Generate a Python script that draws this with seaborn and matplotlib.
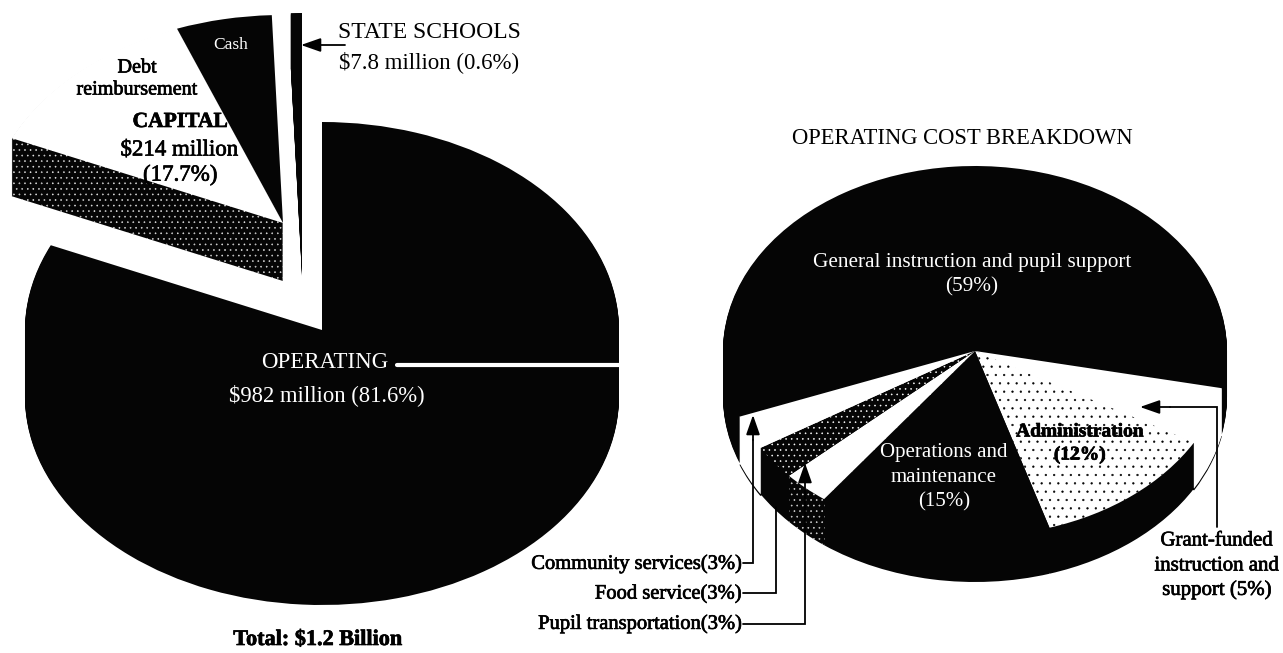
import matplotlib
matplotlib.use("Agg")
import matplotlib.pyplot as plt
import matplotlib.patheffects as pe
import seaborn as sns

# Spending split of the total budget (percent), drawn clockwise from twelve o'clock
budget_labels = ["Operating", "Debt reimbursement", "Cash", "State schools"]
budget_shares = [81.6, 12.5, 5.2, 0.6]

# Operating cost split (percent), drawn clockwise from the left rim
cost_labels = ["General instruction and pupil support", "Grant-funded instruction and support",
               "Administration", "Operations and maintenance", "Pupil transportation",
               "Food service", "Community services"]
cost_shares = [59, 5, 12, 15, 3, 3, 3]

sns.set_theme(style="white", rc={"hatch.linewidth": 0.4})
plt.rcParams["font.family"] = ["Liberation Serif", "DejaVu Serif"]

W, H = 1283, 653
INK = "#050505"
fig = plt.figure(figsize=(W / 100, H / 100), dpi=100, facecolor="white")


def pie_axes(cx, cy, rx, ry):
    """Full-figure axes whose unit circle shows as an ellipse around pixel (cx, cy)."""
    ax = fig.add_axes([0, 0, 1, 1])
    ax._frame = ((-cx / rx, (W - cx) / rx), ((cy - H) / ry, cy / ry))
    return ax


def solid_pie(ax, values, start, center, styles):
    """One pie layer; styles holds (face colour, hatch colour, hatch) per slice."""
    wedges, _ = ax.pie(values, startangle=start, counterclock=False, center=center,
                       radius=1, colors=["none"] * len(values), wedgeprops={"linewidth": 0})
    for wedge, (face, speck, hatch) in zip(wedges, styles):
        wedge.set_facecolor(face)
        wedge.set_edgecolor(speck if hatch else "none")
        wedge.set_linewidth(0)
        if hatch:
            wedge.set_hatch(hatch)


def extruded_pie(ax, values, start, center, faces, walls, depth, ry):
    """Stack copies downwards for the side wall, then lay the top face over them."""
    for step in range(depth, 0, -1):
        solid_pie(ax, values, start, (center[0], center[1] - step / ry), walls)
    solid_pie(ax, values, start, center, faces)


NONE = ("none", None, None)
DARK = (INK, None, None)
GRIT = (INK, "white", "...")
PALE = ("white", None, None)
STIPPLE = ("white", INK, "..")

# Total budget pie, with the capital and state-school slices pulled away
RX, RY = 297, 208
left = pie_axes(327, 330, RX, RY)
extruded_pie(left, budget_shares, 90, (-5 / RX, 0), [DARK, NONE, NONE, NONE],
             [DARK, NONE, NONE, NONE], 67, RY)
extruded_pie(left, budget_shares, 90, (-44 / RX, 107 / RY), [NONE, PALE, DARK, NONE],
             [NONE, GRIT, NONE, NONE], 58, RY)
extruded_pie(left, budget_shares, 90, (-25 / RX, 109 / RY), [NONE, NONE, NONE, DARK],
             [NONE, NONE, NONE, DARK], 55, RY)

# Operating cost pie; the pale side walls keep a thin dark rim along the bottom
RX2, RY2 = 252, 185
right = pie_axes(975, 351, RX2, RY2)
faces = [DARK, PALE, STIPPLE, DARK, PALE, GRIT, PALE]
walls = [DARK, PALE, DARK, DARK, GRIT, DARK, PALE]
rim = [NONE, DARK, NONE, NONE, NONE, NONE, DARK]
solid_pie(right, cost_shares, 200.8, (0, -48 / RY2), rim)
extruded_pie(right, cost_shares, 200.8, (0, 0), faces, walls, 46, RY2)

for ax in (left, right):
    xlim, ylim = ax._frame
    ax.set_aspect("auto")
    ax.set_xlim(*xlim)
    ax.set_ylim(*ylim)
    ax.axis("off")

# Annotation layer in figure pixels
top = fig.add_axes([0, 0, 1, 1], facecolor="none")
top.set_xlim(0, W)
top.set_ylim(H, 0)
top.axis("off")

HEAVY = [pe.withStroke(linewidth=0.5, foreground="black")]


def label(x, y, s, size=12.5, color="black", ha="center", heavy=True, **kw):
    t = top.text(x, y, s, ha=ha, va="center", fontsize=size, color=color, **kw)
    if heavy and color == "black":
        t.set_path_effects(HEAVY)


def elbow(points, head=None):
    xs, ys = zip(*points)
    top.plot(xs, ys, color="black", lw=1.3, solid_joinstyle="miter")
    if head:
        top.annotate("", xy=head, xytext=points[-1],
                     arrowprops=dict(arrowstyle="-|>,head_width=0.35,head_length=1.0",
                                     color="black", lw=1.3, shrinkA=0, shrinkB=0))


top.plot([397, 622], [365, 365], color="white", lw=3)

label(429, 33, "STATE SCHOOLS", size=17, heavy=False)
label(429, 62, "$7.8 million (0.6%)", size=16.5, heavy=False)
elbow([(345, 45), (345, 45)], head=(301, 45))
label(231, 45, "Cash", size=12.5, color="white")
label(137, 68, "Debt", size=14.5)
label(137, 90, "reimbursement", size=14.5)
label(180, 122, "CAPITAL", size=15.5, fontweight="bold")
label(179, 150, "$214 million", size=16.5)
label(180, 175, "(17.7%)", size=16.5)
label(325, 362, "OPERATING", size=16.5, color="white")
label(327, 395, "$982 million (81.6%)", size=16.3, color="white")
label(318, 640, "Total: $1.2 Billion", size=16, fontweight="bold")

label(962, 138, "OPERATING COST BREAKDOWN", size=16.3, heavy=False)
label(972, 263, "General instruction and pupil support", size=15.3, color="white")
label(972, 287, "(59%)", size=15.3, color="white")
label(944, 453, "Operations and", size=15, color="white")
label(944, 478, "maintenance", size=15, color="white")
label(944, 502, "(15%)", size=15, color="white")
label(1080, 432, "Administration", size=14, fontweight="bold")
label(1080, 455, "(12%)", size=14, fontweight="bold")
label(1217, 541, "Grant-funded", size=15)
label(1217, 566, "instruction and", size=15)
label(1217, 590, "support (5%)", size=15)

label(741, 564, "Community services(3%)", size=14.8, ha="right")
label(741, 594, "Food service(3%)", size=14.8, ha="right")
label(741, 624, "Pupil transportation(3%)", size=14.8, ha="right")

elbow([(743, 563), (753, 563), (753, 440)], head=(753, 415))
elbow([(743, 593), (776, 593), (776, 507)])
elbow([(743, 624), (805, 624), (805, 490)], head=(805, 463))
elbow([(1217, 527), (1217, 407), (1170, 407)], head=(1140, 407))

fig.savefig("out.png", dpi=100)
